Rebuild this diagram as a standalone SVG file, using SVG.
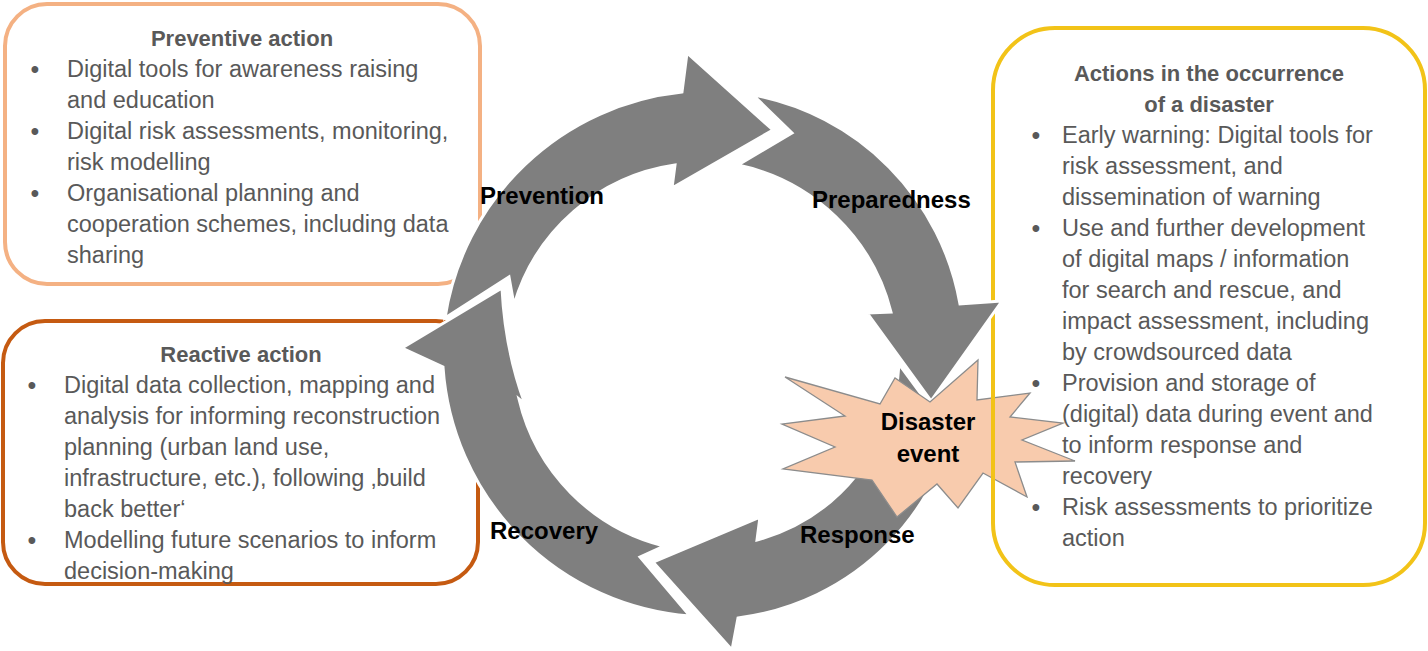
<svg xmlns="http://www.w3.org/2000/svg" width="1428" height="651" viewBox="0 0 1428 651">
<style>
.box{fill:none;stroke-width:4}
.body{font-family:"Liberation Sans",Arial,sans-serif;font-size:23.5px;fill:#595959}
.head{font-family:"Liberation Sans",Arial,sans-serif;font-size:22px;font-weight:bold;fill:#595959;text-anchor:middle}
.bul{font-family:"Liberation Sans",Arial,sans-serif;font-size:25px;fill:#595959;text-anchor:middle}
.arrow{fill:#7F7F7F;stroke:#FFFFFF;stroke-width:3;stroke-linejoin:miter}
.lbl{font-family:"Liberation Sans",Arial,sans-serif;font-size:24px;font-weight:bold;fill:#000000}
</style>
<defs>
<rect id="box3rect" x="993" y="28" width="432" height="557" rx="62" ry="62"/>
<clipPath id="starclip"><rect x="980" y="350" width="30" height="160"/></clipPath>
</defs>
<rect width="1428" height="651" fill="#FFFFFF"/>

<g id="preventive-action">
<rect class="box" x="5" y="4" width="475" height="280" rx="42" ry="42" stroke="#F4B183"/>
<text class="head" x="242" y="46">Preventive action</text>
<text class="bul" x="35" y="78">•</text>
<text class="body" x="67" y="77">Digital tools for awareness raising</text>
<text class="body" x="67" y="108">and education</text>
<text class="bul" x="35" y="140">•</text>
<text class="body" x="67" y="139">Digital risk assessments, monitoring,</text>
<text class="body" x="67" y="170">risk modelling</text>
<text class="bul" x="35" y="202">•</text>
<text class="body" x="67" y="201">Organisational planning and</text>
<text class="body" x="67" y="232">cooperation schemes, including data</text>
<text class="body" x="67" y="263">sharing</text>
</g>

<g id="reactive-action">
<rect class="box" x="3" y="321" width="475" height="263" rx="42" ry="42" stroke="#C55A11"/>
<text class="head" x="241" y="362">Reactive action</text>
<text class="bul" x="32" y="394">•</text>
<text class="body" x="64" y="393">Digital data collection, mapping and</text>
<text class="body" x="64" y="424">analysis for informing reconstruction</text>
<text class="body" x="64" y="455">planning (urban land use,</text>
<text class="body" x="64" y="486">infrastructure, etc.), following ‚build</text>
<text class="body" x="64" y="517">back better‘</text>
<text class="bul" x="32" y="549">•</text>
<text class="body" x="64" y="548">Modelling future scenarios to inform</text>
<text class="body" x="64" y="579">decision-making</text>
</g>

<g id="disaster-actions-border">
<use href="#box3rect" class="box" stroke="#F2C318"/>
</g>

<g id="connectors">
<path id="arrow-prevention" class="arrow" d="M 445,318 A 268,268 0 0 1 682,92 L 687,53 L 773,130 L 672,188 L 675,165 A 197,197 0 0 0 514,305 L 509,277 Z"/>
<path id="arrow-preparedness" class="arrow" d="M 753,95 A 258,258 0 0 1 960,304 L 1002,301 L 931,401 L 867,313 L 891,312 A 200,200 0 0 0 738,165 L 792,133 Z"/>
<path id="arrow-response" class="arrow" d="M 960,392 A 255,255 0 0 1 738,618 L 732,650 L 653,562 L 760,517 L 757,540 A 193,193 0 0 0 899,364 L 929,405 Z"/>
<path id="arrow-recovery" class="arrow" d="M 664,546 L 640,557 L 690,616 A 268,268 0 0 1 443,367 L 402,348 L 502,288 Q 505,350 525,404 L 519,399 A 198,198 0 0 0 664,546 Z"/>
</g>

<g id="cycle-labels">
<text class="lbl" x="480" y="204">Prevention</text>
<text class="lbl" x="812" y="208">Preparedness</text>
<text class="lbl" x="490" y="539">Recovery</text>
<text class="lbl" x="800" y="543">Response</text>
</g>

<g id="disaster-event">
<polygon points="785,377 880,404 895,378 930,402 978,360 977,400 1030,393 1010,417 1063,423 1022,440 1075,461 1015,462 1027,497 983,473 958,508 937,484 897,517 872,480 783,469 835,447 782,424 845,416" fill="#F8CBAD" stroke="#8C8C8C" stroke-width="1.3" stroke-linejoin="miter"/>
<text class="lbl" x="928" y="430" text-anchor="middle">Disaster</text>
<text class="lbl" x="928" y="462" text-anchor="middle">event</text>
</g>

<g id="disaster-actions">
<use href="#box3rect" class="box" stroke="#F2C318" clip-path="url(#starclip)"/>
<text class="head" x="1209" y="81">Actions in the occurrence</text>
<text class="head" x="1209" y="112">of a disaster</text>
<text class="bul" x="1036" y="144">•</text>
<text class="body" x="1062" y="143">Early warning: Digital tools for</text>
<text class="body" x="1062" y="174">risk assessment, and</text>
<text class="body" x="1062" y="205">dissemination of warning</text>
<text class="bul" x="1036" y="237">•</text>
<text class="body" x="1062" y="236">Use and further development</text>
<text class="body" x="1062" y="267">of digital maps / information</text>
<text class="body" x="1062" y="298">for search and rescue, and</text>
<text class="body" x="1062" y="329">impact assessment, including</text>
<text class="body" x="1062" y="360">by crowdsourced data</text>
<text class="bul" x="1036" y="392">•</text>
<text class="body" x="1062" y="391">Provision and storage of</text>
<text class="body" x="1062" y="422">(digital) data during event and</text>
<text class="body" x="1062" y="453">to inform response and</text>
<text class="body" x="1062" y="484">recovery</text>
<text class="bul" x="1036" y="516">•</text>
<text class="body" x="1062" y="515">Risk assessments to prioritize</text>
<text class="body" x="1062" y="546">action</text>
</g>
</svg>
